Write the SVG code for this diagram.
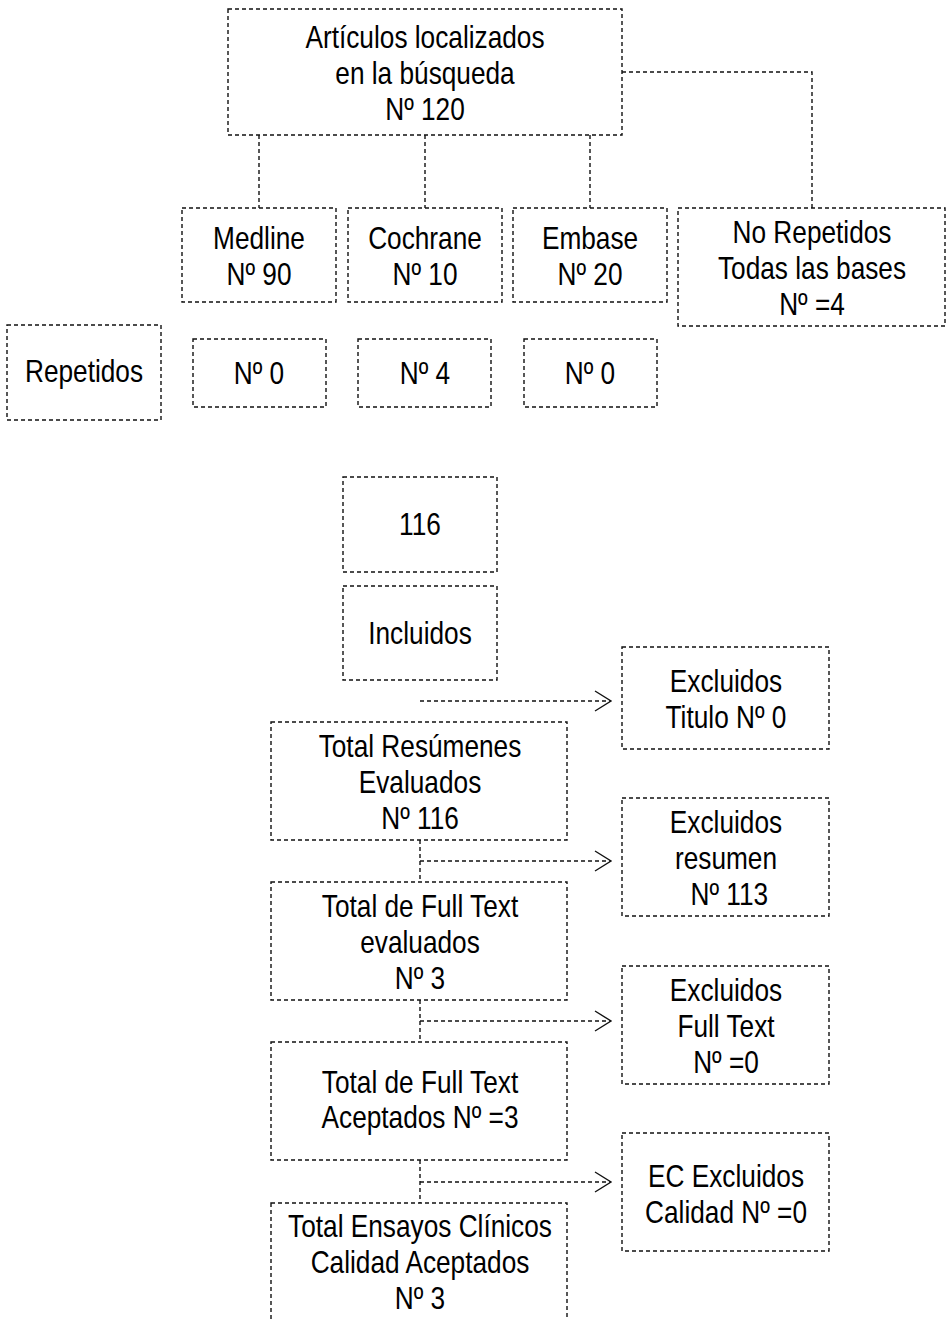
<svg xmlns="http://www.w3.org/2000/svg" width="948" height="1320" viewBox="0 0 948 1320">
<style>
.box{fill:#fff;stroke:#111;stroke-width:1.4;stroke-dasharray:4 3}
.ln{fill:none;stroke:#111;stroke-width:1.4;stroke-dasharray:4 3}
.ah{fill:none;stroke:#111;stroke-width:1.4}
text{font-family:"Liberation Sans",Arial,sans-serif;font-size:32px;fill:#000;text-anchor:middle}
</style>
<rect width="948" height="1320" fill="#fff"/>
<g id="connectors">
<path class="ln" d="M259 135V208M425 135V208M590 135V208"/>
<path class="ln" d="M622 72H812V208"/>
<path class="ln" d="M420 701H610"/>
<path class="ln" d="M420 840V882M420 861H610"/>
<path class="ln" d="M420 1000V1042M420 1021H610"/>
<path class="ln" d="M420 1160V1203M420 1182H610"/>
<path class="ah" d="M595 691L611 701L595 711M595 851L611 861L595 871M595 1011L611 1021L595 1031M595 1172L611 1182L595 1192"/>
</g>
<g id="n-articulos"><rect class="box" x="228" y="9" width="394" height="126"/>
<text transform="matrix(0.82 0 0 1 425 0)"><tspan x="0" y="48">Artículos localizados</tspan><tspan x="0" y="84">en la búsqueda</tspan><tspan x="0" y="120">Nº 120</tspan></text></g>
<g id="n-medline"><rect class="box" x="182" y="208" width="154" height="94"/>
<text transform="matrix(0.82 0 0 1 259 0)"><tspan x="0" y="249">Medline</tspan><tspan x="0" y="285">Nº 90</tspan></text></g>
<g id="n-cochrane"><rect class="box" x="348" y="208" width="154" height="94"/>
<text transform="matrix(0.82 0 0 1 425 0)"><tspan x="0" y="249">Cochrane</tspan><tspan x="0" y="285">Nº 10</tspan></text></g>
<g id="n-embase"><rect class="box" x="513" y="208" width="154" height="94"/>
<text transform="matrix(0.82 0 0 1 590 0)"><tspan x="0" y="249">Embase</tspan><tspan x="0" y="285">Nº 20</tspan></text></g>
<g id="n-norepetidos"><rect class="box" x="678" y="208" width="267" height="118"/>
<text transform="matrix(0.82 0 0 1 812 0)"><tspan x="0" y="243">No Repetidos</tspan><tspan x="0" y="279">Todas las bases</tspan><tspan x="0" y="315">Nº =4</tspan></text></g>
<g id="n-repetidos"><rect class="box" x="7" y="325" width="154" height="95"/>
<text transform="matrix(0.82 0 0 1 84 0)" y="382">Repetidos</text></g>
<g id="n-rep-medline"><rect class="box" x="193" y="339" width="133" height="68"/>
<text transform="matrix(0.82 0 0 1 259 0)" y="384">Nº 0</text></g>
<g id="n-rep-cochrane"><rect class="box" x="358" y="339" width="133" height="68"/>
<text transform="matrix(0.82 0 0 1 425 0)" y="384">Nº 4</text></g>
<g id="n-rep-embase"><rect class="box" x="524" y="339" width="133" height="68"/>
<text transform="matrix(0.82 0 0 1 590 0)" y="384">Nº 0</text></g>
<g id="n-116"><rect class="box" x="343" y="477" width="154" height="95"/>
<text transform="matrix(0.82 0 0 1 420 0)" y="535">116</text></g>
<g id="n-incluidos"><rect class="box" x="343" y="586" width="154" height="94"/>
<text transform="matrix(0.82 0 0 1 420 0)" y="644">Incluidos</text></g>
<g id="n-exc-titulo"><rect class="box" x="622" y="647" width="207" height="102"/>
<text transform="matrix(0.82 0 0 1 726 0)"><tspan x="0" y="692">Excluidos</tspan><tspan x="0" y="728">Titulo Nº 0</tspan></text></g>
<g id="n-resumenes"><rect class="box" x="271" y="722" width="296" height="118"/>
<text transform="matrix(0.82 0 0 1 420 0)"><tspan x="0" y="757">Total Resúmenes</tspan><tspan x="0" y="793">Evaluados</tspan><tspan x="0" y="829">Nº 116</tspan></text></g>
<g id="n-exc-resumen"><rect class="box" x="622" y="798" width="207" height="118"/>
<text transform="matrix(0.82 0 0 1 726 0)"><tspan x="0" y="833">Excluidos</tspan><tspan x="0" y="869">resumen</tspan><tspan x="4" y="905">Nº 113</tspan></text></g>
<g id="n-fulltext-eval"><rect class="box" x="271" y="882" width="296" height="118"/>
<text transform="matrix(0.82 0 0 1 420 0)"><tspan x="0" y="917">Total de Full Text</tspan><tspan x="0" y="953">evaluados</tspan><tspan x="0" y="989">Nº 3</tspan></text></g>
<g id="n-exc-fulltext"><rect class="box" x="622" y="966" width="207" height="118"/>
<text transform="matrix(0.82 0 0 1 726 0)"><tspan x="0" y="1001">Excluidos</tspan><tspan x="0" y="1037">Full Text</tspan><tspan x="0" y="1073">Nº =0</tspan></text></g>
<g id="n-fulltext-acep"><rect class="box" x="271" y="1042" width="296" height="118"/>
<text transform="matrix(0.82 0 0 1 420 0)"><tspan x="0" y="1093">Total de Full Text</tspan><tspan x="0" y="1128">Aceptados Nº =3</tspan></text></g>
<g id="n-ec-excluidos"><rect class="box" x="622" y="1133" width="207" height="118"/>
<text transform="matrix(0.82 0 0 1 726 0)"><tspan x="0" y="1187">EC Excluidos</tspan><tspan x="0" y="1223">Calidad Nº =0</tspan></text></g>
<g id="n-ensayos"><rect class="box" x="271" y="1203" width="296" height="140"/>
<text transform="matrix(0.82 0 0 1 420 0)"><tspan x="0" y="1237">Total Ensayos Clínicos</tspan><tspan x="0" y="1273">Calidad Aceptados</tspan><tspan x="0" y="1309">Nº 3</tspan></text></g>
</svg>
